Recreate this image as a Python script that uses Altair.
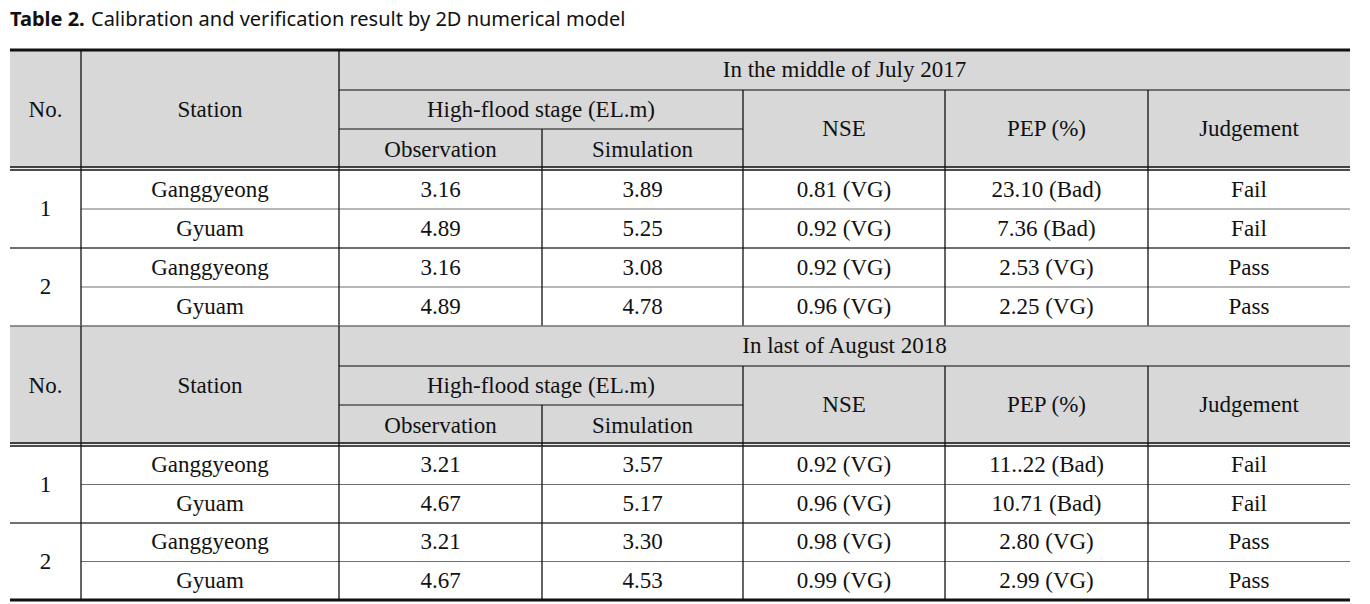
import altair as alt
import pandas as pd

# ---------------- data ----------------
title_bold = "Table 2."
title_rest = "Calibration and verification result by 2D numerical model"

periods = ["In the middle of July 2017", "In last of August 2018"]
header_no = "No."
header_station = "Station"
header_stage = "High-flood stage (EL.m)"
header_obs = "Observation"
header_sim = "Simulation"
header_nse = "NSE"
header_pep = "PEP (%)"
header_judge = "Judgement"

case_no = ["1", "2"]
stations = ["Ganggyeong", "Gyuam", "Ganggyeong", "Gyuam"]

obs_2017 = ["3.16", "4.89", "3.16", "4.89"]
sim_2017 = ["3.89", "5.25", "3.08", "4.78"]
nse_2017 = ["0.81 (VG)", "0.92 (VG)", "0.92 (VG)", "0.96 (VG)"]
pep_2017 = ["23.10 (Bad)", "7.36 (Bad)", "2.53 (VG)", "2.25 (VG)"]
judge_2017 = ["Fail", "Fail", "Pass", "Pass"]

obs_2018 = ["3.21", "4.67", "3.21", "4.67"]
sim_2018 = ["3.57", "5.17", "3.30", "4.53"]
nse_2018 = ["0.92 (VG)", "0.96 (VG)", "0.98 (VG)", "0.99 (VG)"]
pep_2018 = ["11..22 (Bad)", "10.71 (Bad)", "2.80 (VG)", "2.99 (VG)"]
judge_2018 = ["Fail", "Fail", "Pass", "Pass"]

# ---------------- layout ----------------
W, H = 1354, 596
COLS = [10, 81, 339, 542, 743, 945, 1148, 1350]
SECTION_TOPS = [50, 326]
SECTION_BOTTOMS = [326, 600]
HDR1, HDR2, HDRB1, HDRB2 = 40, 79, 117, 120

FILL = "#d8d8d8"
BLACK = "#111111"
GRAY = "#707070"

def mid(a, b):
    return (a + b) / 2

texts = []
rules = []
rects = []

sections = [
    (obs_2017, sim_2017, nse_2017, pep_2017, judge_2017),
    (obs_2018, sim_2018, nse_2018, pep_2018, judge_2018),
]

for si, s in enumerate(SECTION_TOPS):
    bot = SECTION_BOTTOMS[si]
    obs, sim, nse, pep, judge = sections[si]
    rects.append(dict(x=COLS[0], x2=COLS[-1], y=s, y2=s + HDRB1 + 1.5, c=FILL))
    # header texts
    texts += [
        dict(x=mid(COLS[2], COLS[-1]), y=s + 20, t=periods[si]),
        dict(x=mid(COLS[0], COLS[1]), y=s + 60, t=header_no),
        dict(x=mid(COLS[1], COLS[2]), y=s + 60, t=header_station),
        dict(x=mid(COLS[2], COLS[4]), y=s + 60, t=header_stage),
        dict(x=mid(COLS[2], COLS[3]), y=s + 99.5, t=header_obs),
        dict(x=mid(COLS[3], COLS[4]), y=s + 99.5, t=header_sim),
        dict(x=mid(COLS[4], COLS[5]), y=s + 79, t=header_nse),
        dict(x=mid(COLS[5], COLS[6]), y=s + 79, t=header_pep),
        dict(x=mid(COLS[6], COLS[7]), y=s + 79, t=header_judge),
    ]
    dtop = s + HDRB2
    rh = (bot - dtop) / 4
    for r in range(4):
        cy = dtop + rh * (r + 0.5)
        vals = [stations[r], obs[r], sim[r], nse[r], pep[r], judge[r]]
        for ci, v in enumerate(vals):
            texts.append(dict(x=mid(COLS[ci + 1], COLS[ci + 2]), y=cy, t=v))
    for g in range(2):
        texts.append(dict(x=mid(COLS[0], COLS[1]), y=dtop + rh * (2 * g + 1), t=case_no[g]))
    # horizontal lines
    if si == 0:
        rules.append(dict(x=COLS[0], x2=COLS[-1], y=s, y2=s, c=BLACK, w=3))
    else:
        rules.append(dict(x=COLS[0], x2=COLS[-1], y=s, y2=s, c=GRAY, w=1.5))
    rules.append(dict(x=COLS[2], x2=COLS[-1], y=s + HDR1, y2=s + HDR1, c=GRAY, w=2))
    rules.append(dict(x=COLS[2], x2=COLS[4], y=s + HDR2, y2=s + HDR2, c=BLACK, w=1))
    rules.append(dict(x=COLS[0], x2=COLS[-1], y=s + HDRB1, y2=s + HDRB1, c=BLACK, w=1.5))
    rules.append(dict(x=COLS[0], x2=COLS[-1], y=s + HDRB2, y2=s + HDRB2, c=BLACK, w=1.5))
    for r in range(1, 4):
        yy = dtop + rh * r
        if r == 2:
            rules.append(dict(x=COLS[0], x2=COLS[-1], y=yy, y2=yy, c=GRAY, w=2))
        else:
            rules.append(dict(x=COLS[1], x2=COLS[-1], y=yy, y2=yy, c=GRAY, w=1.2))
    if si == 1:
        rules.append(dict(x=COLS[0], x2=COLS[-1], y=bot, y2=bot, c=BLACK, w=3))
    # vertical lines
    for ci in (1, 2):
        rules.append(dict(x=COLS[ci], x2=COLS[ci], y=s, y2=bot, c=BLACK, w=1.3))
    for ci in (4, 5, 6):
        rules.append(dict(x=COLS[ci], x2=COLS[ci], y=s + HDR1, y2=bot, c=BLACK, w=1.3))
    rules.append(dict(x=COLS[3], x2=COLS[3], y=s + HDR2, y2=bot, c=BLACK, w=1.3))

title_df = pd.DataFrame([dict(x=10, y=26, t=title_bold)])
title2_df = pd.DataFrame([dict(x=91, y=26, t=title_rest)])

xs = alt.Scale(domain=[8, 8 + W], nice=False, zero=False)
ys = alt.Scale(domain=[8, 8 + H], nice=False, zero=False, reverse=True)

def X(f="x"):
    return alt.X(f"{f}:Q", scale=xs, axis=None)

def Y(f="y"):
    return alt.Y(f"{f}:Q", scale=ys, axis=None)

rect_layer = alt.Chart(pd.DataFrame(rects)).mark_rect(strokeWidth=0).encode(
    x=X(), x2="x2:Q", y=Y(), y2="y2:Q", color=alt.Color("c:N", scale=None)
)

rule_layer = alt.Chart(pd.DataFrame(rules)).mark_rule(strokeCap="butt").encode(
    x=X(), x2="x2:Q", y=Y(), y2="y2:Q",
    color=alt.Color("c:N", scale=None),
    strokeWidth=alt.StrokeWidth("w:Q", scale=None),
)

text_layer = alt.Chart(pd.DataFrame(texts)).mark_text(
    font="Liberation Serif", fontSize=23, color="#111111", align="center", baseline="middle"
).encode(x=X(), y=Y(), text="t:N")

title_layer = alt.Chart(title_df).mark_text(
    font="Noto Sans", fontSize=20, fontWeight="bold", color="#111111", align="left", baseline="alphabetic"
).encode(x=X(), y=Y(), text="t:N")

title2_layer = alt.Chart(title2_df).mark_text(
    font="Noto Sans", fontSize=20, color="#111111", align="left", baseline="alphabetic"
).encode(x=X(), y=Y(), text="t:N")

chart = alt.layer(rect_layer, rule_layer, text_layer, title_layer, title2_layer).properties(
    width=W, height=H, padding=0, autosize=alt.AutoSizeParams(type="none")
).configure_view(stroke=None)

chart.save("out.html", embed_options={"renderer": "svg", "actions": False})
